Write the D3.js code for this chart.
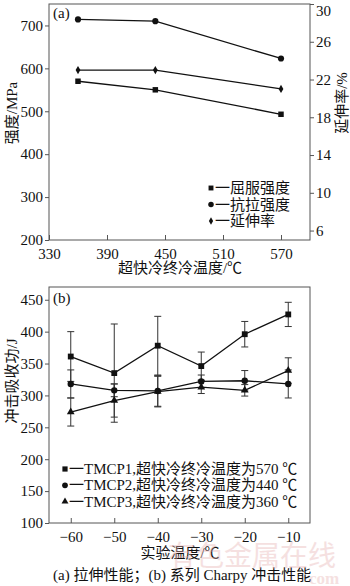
<!DOCTYPE html>
<html>
<head>
<meta charset="utf-8">
<script src="https://cdn.jsdelivr.net/npm/d3@7"></script>
<style>
  html, body { margin: 0; padding: 0; background: #fff; }
  svg text { font-family: "Liberation Serif", "Noto Sans CJK SC", serif; fill: #111; }
</style>
</head>
<body>
<svg id="chart" width="350" height="586"></svg>
<script>
// (a) tensile properties vs. ultra-fast cooling finish temperature
const coolTemps = [360, 440, 570];
const yieldStrength = [570, 550, 493];
const tensileStrength = [714, 710, 623];
const elongation = [23.0, 23.0, 21.0];
const tensileXTicks = [330, 390, 450, 510, 570];
const strengthTicks = [200, 300, 400, 500, 600, 700];
const elongTicks = [6, 10, 14, 18, 22, 26, 30];
const tensileLegend = ["一屈服强度", "一抗拉强度", "一延伸率"];

// (b) Charpy impact energy vs. test temperature
const testTemps = [-60, -50, -40, -30, -20, -10];
const tmcp1 = [361, 335, 378, 346, 396, 427];
const tmcp1Err = [39, 77, 46, 22, 20, 19];
const tmcp2 = [318, 308, 307, 322, 323, 318];
const tmcp2Err = [22, 10, 24, 10, 16, 22];
const tmcp3 = [274, 292, 306, 313, 308, 339];
const tmcp3Err = [22, 26, 24, 10, 9, 20];
const impactXTicks = [-60, -50, -40, -30, -20, -10];
const impactYTicks = [100, 150, 200, 250, 300, 350, 400, 450];
const impactLegend = ["一TMCP1,超快冷终冷温度为570 ℃", "一TMCP2,超快冷终冷温度为440 ℃", "一TMCP3,超快冷终冷温度为360 ℃"];

const svg = d3.select("#chart");
const frameColor = "#555";
const fmtMinus = d => (d < 0 ? "\u2212" + Math.abs(d) : String(d));

function styleAxis(g) {
  g.select(".domain").remove();
  g.selectAll(".tick line").attr("stroke", frameColor);
  g.selectAll(".tick text").attr("font-size", 15).attr("fill", "#111");
}

function symbolPath(type, size) {
  return d3.symbol().type(type).size(size)();
}

// ---------- panel (a) ----------
const A = { left: 49, right: 310, top: 4, bottom: 240 };
const xa = d3.scaleLinear().domain([330, 600]).range([A.left, A.right]);
const ya = d3.scaleLinear().domain([200, 750]).range([A.bottom, A.top]);
const ya2 = d3.scaleLinear().domain([5, 30]).range([A.bottom, A.top]);

svg.append("g").attr("transform", `translate(0,${A.bottom})`)
  .call(d3.axisBottom(xa).tickValues(tensileXTicks).tickSizeInner(-5).tickSizeOuter(0).tickPadding(8))
  .call(styleAxis);
svg.append("g").attr("transform", `translate(${A.left},0)`)
  .call(d3.axisLeft(ya).tickValues(strengthTicks).tickSizeInner(4).tickSizeOuter(0).tickPadding(2))
  .call(styleAxis);
svg.append("g").attr("transform", `translate(${A.right},0)`)
  .call(d3.axisRight(ya2).tickValues(elongTicks).tickSizeInner(4).tickSizeOuter(0).tickPadding(2))
  .call(styleAxis)
  .call(g => g.selectAll(".tick text").filter(d => d === 30).attr("dy", "0.75em"));
svg.append("rect").attr("x", A.left).attr("y", A.top)
  .attr("width", A.right - A.left).attr("height", A.bottom - A.top)
  .attr("fill", "none").attr("stroke", frameColor).attr("stroke-width", 1);

const lineA = (scale) => d3.line().x((d, i) => xa(coolTemps[i])).y(d => scale(d));
const seriesA = [
  { vals: yieldStrength, scale: ya, sym: d3.symbolSquare, size: 30 },
  { vals: tensileStrength, scale: ya, sym: d3.symbolCircle, size: 30 },
  { vals: elongation, scale: ya2, sym: d3.symbolDiamond, size: 20 }
];
seriesA.forEach(s => {
  svg.append("path").datum(s.vals).attr("d", lineA(s.scale))
    .attr("fill", "none").attr("stroke", "#111").attr("stroke-width", 1.3);
  svg.selectAll(null).data(s.vals).enter().append("path")
    .attr("d", symbolPath(s.sym, s.size))
    .attr("transform", (d, i) => `translate(${xa(coolTemps[i])},${s.scale(d)})`)
    .attr("fill", "#111");
});

svg.append("text").attr("x", 53).attr("y", 18).attr("font-size", 15).text("(a)");

// legend (a)
tensileLegend.forEach((t, i) => {
  const y = 188 + i * 16.5;
  svg.append("path").attr("d", symbolPath(seriesA[i].sym, seriesA[i].size * 0.8))
    .attr("transform", `translate(211,${y})`).attr("fill", "#111");
  svg.append("text").attr("x", 215).attr("y", y + 5).attr("font-size", 15).text(t);
});

// axis titles (a)
svg.append("text").attr("x", 180).attr("y", 273).attr("text-anchor", "middle")
  .attr("font-size", 15).text("超快冷终冷温度/℃");
svg.append("text").attr("transform", "translate(17,113) rotate(-90)")
  .attr("text-anchor", "middle").attr("font-size", 15).text("强度/MPa");
svg.append("text").attr("transform", "translate(347,103) rotate(-90)")
  .attr("text-anchor", "middle").attr("font-size", 15).text("延伸率/%");

// ---------- panel (b) ----------
const B = { left: 49, right: 310, top: 287, bottom: 523 };
const xb = d3.scaleLinear().domain([-65, -5]).range([B.left, B.right]);
const yb = d3.scaleLinear().domain([100, 470]).range([B.bottom, B.top]);

svg.append("g").attr("transform", `translate(0,${B.bottom})`)
  .call(d3.axisBottom(xb).tickValues(impactXTicks).tickFormat(fmtMinus)
    .tickSizeInner(-5).tickSizeOuter(0).tickPadding(8))
  .call(styleAxis);
svg.append("g").attr("transform", `translate(${B.left},0)`)
  .call(d3.axisLeft(yb).tickValues(impactYTicks).tickSizeInner(4).tickSizeOuter(0).tickPadding(2))
  .call(styleAxis);
svg.append("rect").attr("x", B.left).attr("y", B.top)
  .attr("width", B.right - B.left).attr("height", B.bottom - B.top)
  .attr("fill", "none").attr("stroke", frameColor).attr("stroke-width", 1);

const seriesB = [
  { vals: tmcp1, err: tmcp1Err, sym: d3.symbolSquare, size: 34 },
  { vals: tmcp2, err: tmcp2Err, sym: d3.symbolCircle, size: 32 },
  { vals: tmcp3, err: tmcp3Err, sym: d3.symbolTriangle, size: 26 }
];
const lineB = d3.line().x((d, i) => xb(testTemps[i])).y(d => yb(d));
seriesB.forEach(s => {
  const g = svg.append("g");
  s.vals.forEach((v, i) => {
    const x = xb(testTemps[i]);
    const y1 = yb(v + s.err[i]), y2 = yb(v - s.err[i]);
    g.append("line").attr("x1", x).attr("x2", x).attr("y1", y1).attr("y2", y2)
      .attr("stroke", "#333").attr("stroke-width", 1);
    [y1, y2].forEach(yy => g.append("line").attr("x1", x - 3.5).attr("x2", x + 3.5)
      .attr("y1", yy).attr("y2", yy).attr("stroke", "#333").attr("stroke-width", 1));
  });
});
seriesB.forEach(s => {
  svg.append("path").datum(s.vals).attr("d", lineB)
    .attr("fill", "none").attr("stroke", "#111").attr("stroke-width", 1.3);
  svg.selectAll(null).data(s.vals).enter().append("path")
    .attr("d", symbolPath(s.sym, s.size))
    .attr("transform", (d, i) => `translate(${xb(testTemps[i])},${yb(d)})`)
    .attr("fill", "#111");
});

svg.append("text").attr("x", 53).attr("y", 303).attr("font-size", 15).text("(b)");

// legend (b)
impactLegend.forEach((t, i) => {
  const y = 469 + i * 16.3;
  svg.append("path").attr("d", symbolPath(seriesB[i].sym, seriesB[i].size * 0.8))
    .attr("transform", `translate(65,${y})`).attr("fill", "#111");
  svg.append("text").attr("x", 69).attr("y", y + 5).attr("font-size", 15).text(t);
});

// axis titles (b)
svg.append("text").attr("x", 180).attr("y", 558).attr("text-anchor", "middle")
  .attr("font-size", 15).text("实验温度/℃");
svg.append("text").attr("transform", "translate(17,381) rotate(-90)")
  .attr("text-anchor", "middle").attr("font-size", 15).text("冲击吸收功/J");

// caption
svg.append("text").attr("x", 53).attr("y", 580).attr("font-size", 15)
  .attr("fill", "#222").text("(a)  拉伸性能；(b)  系列 Charpy 冲击性能");

// site watermark
svg.append("text").attr("x", 168).attr("y", 566).attr("font-size", 28)
  .attr("font-family", "Noto Sans CJK SC").style("fill", "#e8b4b4").attr("opacity", 0.4)
  .text("有色金属在线");
svg.append("text").attr("x", 309).attr("y", 584).attr("font-size", 17)
  .style("fill", "#e8b4b4").attr("opacity", 0.4).attr("font-weight", "bold").text("com");
</script>
</body>
</html>
